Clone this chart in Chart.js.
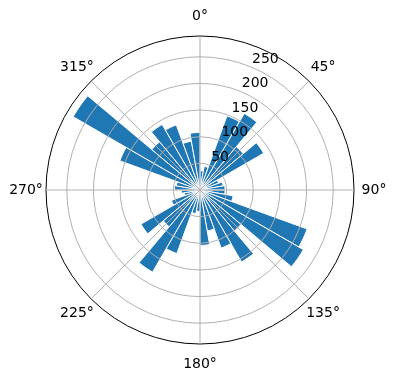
<!DOCTYPE html>
<html>
<head>
<meta charset="utf-8">
<script src="https://cdn.jsdelivr.net/npm/chart.js@4"></script>
<style>
  body { margin: 0; background: #fff; }
  canvas { display: block; }
</style>
</head>
<body>
<canvas id="rose" width="396" height="380"></canvas>
<script>
// 36 direction bins of 10°, starting at north, going clockwise
const binStarts = [0, 10, 20, 30, 40, 50, 60, 70, 80,
                   90, 100, 110, 120, 130, 140, 150, 160, 170,
                   180, 190, 200, 210, 220, 230, 240, 250, 260,
                   270, 280, 290, 300, 310, 320, 330, 340, 350];
const counts = [36, 45, 148, 166, 106, 138, 37, 44, 47,
                47, 63, 214, 224, 100, 156, 116, 78, 104,
                40, 45, 127, 178, 90, 128, 57, 30, 35,
                48, 45, 160, 275, 118, 142, 130, 93, 108];

const angleTicks = [0, 45, 90, 135, 180, 225, 270, 315];
const angleTickLabels = ['0°', '45°', '90°', '135°', '180°', '225°', '270°', '315°'];
const radialTicks = [50, 100, 150, 200, 250];
const rMax = 289;

const gridColor = '#b0b0b0';
const font = '14px "DejaVu Sans"';

// spokes, angle labels and radius labels the way matplotlib places them
const polarDecor = {
  id: 'polarDecor',
  afterDraw(chart) {
    const scale = chart.scales.r;
    const ctx = chart.ctx;
    const cx = scale.xCenter, cy = scale.yCenter;
    const R = scale.drawingArea;
    ctx.save();

    ctx.strokeStyle = gridColor;
    ctx.lineWidth = 1;
    angleTicks.forEach(deg => {
      const a = deg * Math.PI / 180;
      ctx.beginPath();
      ctx.moveTo(cx, cy);
      ctx.lineTo(cx + Math.sin(a) * R, cy - Math.cos(a) * R);
      ctx.stroke();
    });

    ctx.fillStyle = '#000';
    ctx.font = font;
    ctx.textAlign = 'center';
    ctx.textBaseline = 'middle';
    angleTicks.forEach((deg, i) => {
      const a = deg * Math.PI / 180;
      ctx.fillText(angleTickLabels[i], cx + Math.sin(a) * (R + 20), cy - Math.cos(a) * (R + 20));
    });

    const ra = 22.5 * Math.PI / 180;
    ctx.textAlign = 'left';
    ctx.textBaseline = 'bottom';
    radialTicks.forEach(v => {
      const d = scale.getDistanceFromCenterForValue(v);
      ctx.fillText(String(v), cx + Math.sin(ra) * d + 1, cy - Math.cos(ra) * d - 1);
    });
    ctx.restore();
  }
};

new Chart(document.getElementById('rose'), {
  type: 'polarArea',
  data: {
    labels: binStarts.map(d => d + '°'),
    datasets: [{
      data: counts,
      backgroundColor: '#1f77b4',
      borderColor: '#ffffff',
      borderWidth: 1
    }]
  },
  options: {
    responsive: false,
    animation: false,
    layout: { padding: { left: 46, right: 42, top: 36, bottom: 36 } },
    plugins: { legend: { display: false }, tooltip: { enabled: false } },
    scales: {
      r: {
        min: 0,
        max: rMax,
        startAngle: 0,
        ticks: { display: false, stepSize: 50 },
        grid: {
          z: 1,
          circular: true,
          lineWidth: 1,
          color: c => (c.tick && c.tick.value === rMax) ? '#000' : gridColor
        },
        angleLines: { display: false },
        pointLabels: { display: false },
        afterBuildTicks: scale => {
          scale.ticks = [0].concat(radialTicks, [rMax]).map(v => ({ value: v }));
        }
      }
    }
  },
  plugins: [polarDecor]
});
</script>
</body>
</html>
